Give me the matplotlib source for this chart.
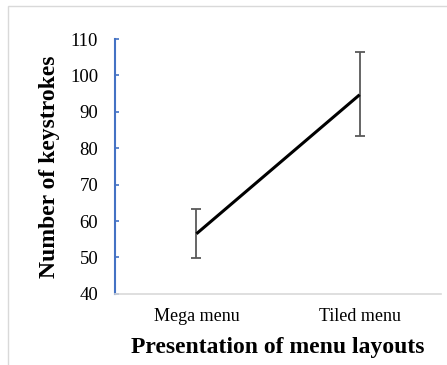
import matplotlib
matplotlib.use('Agg')
import matplotlib.pyplot as plt
from matplotlib.patches import Rectangle

# data
layouts = ['Mega menu', 'Tiled menu']
keystrokes = [56.5, 94.7]
err_low = [6.7, 11.3]
err_high = [6.9, 11.8]
y_ticks = [40, 50, 60, 70, 80, 90, 100, 110]

plt.rcParams['font.family'] = ['Liberation Serif', 'DejaVu Serif']

fig = plt.figure(figsize=(4.47, 3.65), dpi=100)
ax = fig.add_axes([0.257, 0.195, 0.73, 0.698])

x = list(range(len(layouts)))
ax.errorbar(x, keystrokes, yerr=[err_low, err_high], fmt='none',
            ecolor='#595959', elinewidth=1.3, capsize=3.5, capthick=1.3, zorder=2)
ax.plot(x, keystrokes, color='black', linewidth=2.2, solid_capstyle='butt', zorder=3)

ax.set_xlim(-0.5, 1.5)
ax.set_ylim(40, 110)
ax.set_yticks(y_ticks)
ax.set_xticks(x)
ax.set_xticklabels(layouts)

for s in ['top', 'right']:
    ax.spines[s].set_visible(False)
ax.spines['left'].set_color('#4472C4')
ax.spines['left'].set_linewidth(1.5)
ax.spines['bottom'].set_color('#D9D9D9')
ax.spines['bottom'].set_linewidth(1.2)

ax.tick_params(axis='y', direction='in', length=3, width=1.2, color='#4472C4',
               labelsize=13.5, pad=12)
ax.tick_params(axis='x', length=0, labelsize=13, pad=10)

ax.set_ylabel('Number of keystrokes', fontsize=17, fontweight='bold', labelpad=7)
ax.set_xlabel('Presentation of menu layouts', fontsize=17, fontweight='bold', labelpad=9)

# light frame around the chart area
fig.patches.append(Rectangle((8 / 447, -0.1), 1.2, 1.1 - 6 / 365,
                             transform=fig.transFigure, fill=False,
                             edgecolor='#D9D9D9', linewidth=1.0))

fig.savefig('out.png', dpi=100)
